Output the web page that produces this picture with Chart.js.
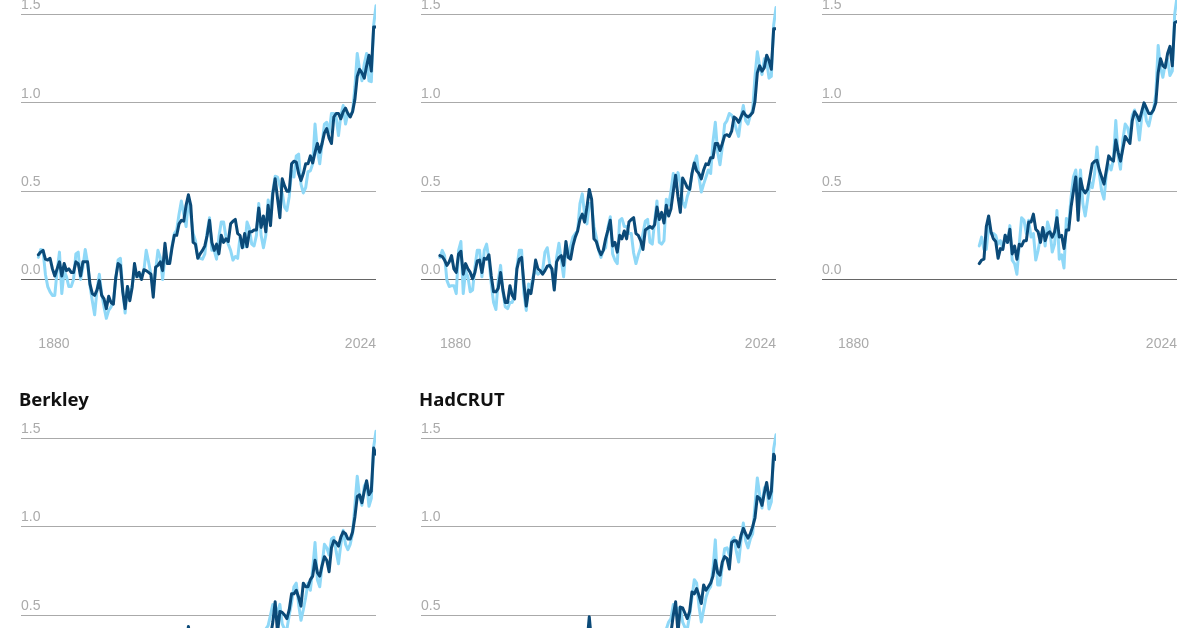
<!DOCTYPE html>
<html>
<head>
<meta charset="utf-8">
<script src="https://cdn.jsdelivr.net/npm/chart.js@4"></script>
<style>
  html, body { margin: 0; width: 1200px; height: 628px; overflow: hidden; background: #fff; }
  canvas { position: absolute; }
</style>
</head>
<body>
<script>
const firstYear = 1880;
const lastYear = 2024;
const years = [];
for (let y = firstYear; y <= lastYear; y++) years.push(y);

const yTicks = [0, 0.5, 1, 1.5];
const xTicks = [1880, 2024];

const titles = ["", "", "", "Berkley", "HadCRUT"];

const panel1Dark = [
  .14,.155,.165,.115,.11,.12,.06,.02,.06,.10,
  .02,.09,.05,.06,.04,.04,.10,.09,.02,.10,
  .10,.10,-.025,-.08,-.09,-.06,-.005,-.09,-.11,-.165,
  -.095,-.13,-.14,.01,.09,.08,-.07,-.165,-.04,-.12,
  -.045,.09,.015,.04,0,.055,.05,.04,.03,-.10,
  .07,.08,.10,.05,.205,.09,.09,.18,.25,.25,
  .315,.335,.33,.42,.48,.42,.21,.20,.12,.145,
  .165,.19,.25,.335,.21,.165,.20,.145,.25,.21,
  .23,.215,.315,.33,.34,.26,.25,.18,.26,.185,
  .27,.27,.28,.28,.405,.295,.36,.27,.42,.305,
  .485,.57,.46,.35,.57,.53,.50,.50,.655,.67,
  .665,.60,.56,.60,.655,.655,.70,.66,.72,.77,
  .72,.77,.83,.855,.80,.77,.92,.94,.94,.91,
  .95,.97,.94,.92,.95,1.02,1.15,1.19,1.17,1.14,
  1.21,1.27,1.18,1.43,1.43
];
const panel1Light = [
  .125,.17,.165,.03,-.04,-.07,-.09,-.09,.05,.155,
  -.08,.05,.015,-.04,-.04,0,.145,.155,0,.07,
  .17,.09,-.035,-.12,-.20,-.06,.03,-.08,-.155,-.22,
  -.175,-.155,-.12,0,.11,.12,-.06,-.19,-.04,-.08,
  -.035,.05,.03,.015,.02,.05,.165,.10,.03,-.05,
  .05,.165,.125,0,.125,.10,.10,.19,.26,.28,
  .37,.445,.37,.30,.45,.37,.26,.22,.125,.12,
  .115,.145,.27,.35,.165,.165,.115,.24,.325,.325,
  .24,.20,.165,.11,.13,.12,.24,.185,.185,.325,
  .29,.20,.19,.25,.43,.25,.18,.25,.45,.40,
  .50,.585,.58,.53,.49,.41,.39,.47,.615,.58,
  .70,.71,.54,.49,.52,.61,.615,.655,.88,.73,
  .655,.77,.88,.89,.83,.94,.94,.92,.815,.93,
  .985,.88,.94,.93,.95,1.09,1.28,1.19,1.125,1.22,
  1.28,1.125,1.12,1.44,1.55
];

const panel2Dark = [
  .135,.13,.11,.08,.10,.135,.06,.04,.145,.16,
  .03,.09,.06,.04,.005,.04,.105,.11,.04,.12,
  .115,.14,.02,-.07,-.07,-.05,.04,-.06,-.13,-.13,
  -.035,-.09,-.11,.06,.115,.125,-.025,-.15,-.06,-.08,
  .005,.11,.06,.05,.03,.05,.075,.08,.06,-.06,
  .10,.125,.135,.08,.215,.125,.115,.19,.24,.275,
  .34,.37,.325,.41,.51,.455,.23,.215,.17,.14,
  .165,.23,.28,.335,.19,.21,.155,.25,.23,.275,
  .23,.325,.34,.35,.26,.25,.22,.17,.28,.29,
  .30,.29,.31,.41,.34,.38,.32,.42,.36,.40,
  .50,.59,.47,.38,.575,.55,.52,.51,.60,.66,
  .615,.60,.57,.62,.655,.65,.69,.69,.77,.77,
  .73,.77,.815,.82,.81,.84,.92,.91,.89,.92,
  .95,.93,.92,.93,.945,1.01,1.17,1.21,1.18,1.20,
  1.27,1.24,1.19,1.42,1.42
];
const panel2Light = [
  .125,.165,.135,-.005,-.04,-.035,-.035,-.08,.165,.215,
  -.08,.05,.015,-.07,-.06,.07,.165,.165,.015,.165,
  .20,.115,-.025,-.13,-.17,-.005,.08,-.07,-.155,-.165,
  -.13,-.13,-.08,.07,.165,.165,-.08,-.175,-.025,-.04,
  .02,.05,.03,.04,.05,.155,.18,.09,.05,-.05,
  .125,.205,.11,.015,.18,.125,.19,.24,.26,.275,
  .43,.485,.37,.315,.43,.43,.30,.24,.165,.125,
  .165,.18,.295,.355,.145,.11,.09,.335,.345,.30,
  .30,.26,.26,.15,.09,.14,.18,.26,.33,.34,
  .21,.20,.33,.445,.21,.20,.22,.455,.42,.50,
  .60,.55,.605,.54,.44,.41,.47,.51,.60,.66,
  .70,.58,.495,.54,.58,.62,.60,.78,.89,.72,
  .65,.75,.88,.90,.94,.93,.90,.85,.81,.92,
  .985,.90,.88,.93,.96,1.15,1.29,1.21,1.16,1.25,
  1.24,1.14,1.15,1.44,1.54
];

// this record only starts in 1940
const panel3Dark = Array(60).fill(null).concat([
  .09,.11,.115,.30,.36,.27,.23,.215,.12,.175,
  .17,.25,.21,.285,.145,.19,.115,.20,.19,.22,
  .22,.325,.325,.37,.285,.27,.21,.295,.22,.26,
  .27,.24,.27,.35,.24,.25,.175,.28,.28,.41,
  .50,.58,.335,.57,.51,.49,.51,.58,.655,.67,
  .675,.62,.58,.54,.62,.70,.68,.67,.79,.72,
  .67,.74,.81,.79,.77,.90,.95,.93,.90,.95,
  1.0,.97,.94,.94,.96,1.0,1.17,1.25,1.21,1.20,
  1.28,1.32,1.21,1.455,1.46
]);
const panel3Light = Array(60).fill(null).concat([
  .19,.24,.17,.17,.30,.26,.26,.25,.20,.22,
  .175,.25,.21,.305,.11,.09,.03,.20,.35,.335,
  .26,.335,.24,.26,.11,.165,.24,.28,.19,.325,
  .28,.155,.20,.39,.115,.14,.065,.345,.31,.465,
  .58,.62,.47,.62,.43,.36,.45,.55,.52,.60,
  .75,.60,.50,.455,.60,.65,.62,.68,.90,.70,
  .625,.79,.88,.86,.80,.93,.96,.90,.79,.92,
  .99,.90,.87,.93,.96,1.05,1.325,1.20,1.145,1.22,
  1.25,1.155,1.18,1.50,1.60
]);

// bottom row is cut off by the picture edge, only the part above it can be read
const panel4Dark = Array(63).fill(null).concat([.32,.435,.32], Array(33).fill(null), [
  .38,.46,.575,.40,.52,.515,.50,.48,.53,.62,.62,
  .64,.60,.55,.68,.66,.66,.70,.72,.81,.74,
  .72,.78,.83,.81,.745,.88,.92,.91,.89,.94,
  .97,.96,.93,.93,.97,1.055,1.17,1.18,1.135,1.20,
  1.26,1.18,1.20,1.445,1.41
]);
const panel4Light = Array(97).fill(null).concat([
  .42,.44,.50,.56,.50,.52,.56,.45,.42,.42,.50,.57,.66,
  .68,.56,.47,.53,.60,.68,.64,.76,.91,.70,
  .66,.78,.90,.88,.84,.93,.94,.86,.79,.90,
  .98,.90,.87,.90,.96,1.12,1.285,1.17,1.12,1.23,
  1.25,1.115,1.16,1.45,1.54
]);

const panel5Dark = Array(63).fill(null).concat([.34,.49,.34], Array(33).fill(null), [
  .40,.50,.575,.40,.545,.54,.51,.48,.52,.63,.62,
  .65,.61,.565,.67,.64,.66,.68,.72,.81,.74,
  .725,.80,.83,.82,.76,.91,.92,.92,.885,.95,
  .99,.96,.935,.96,1.0,1.05,1.17,1.16,1.12,1.19,
  1.25,1.16,1.20,1.41,1.38
]);
const panel5Light = Array(97).fill(null).concat([
  .42,.46,.48,.56,.50,.54,.54,.46,.43,.42,.50,.60,.70,
  .68,.55,.46,.53,.60,.64,.66,.76,.925,.67,
  .67,.78,.875,.88,.84,.92,.94,.86,.80,.92,
  1.02,.92,.88,.93,.96,1.12,1.275,1.18,1.105,1.22,
  1.23,1.10,1.14,1.44,1.52
]);

const darkSeries = [panel1Dark, panel2Dark, panel3Dark, panel4Dark, panel5Dark];
const lightSeries = [panel1Light, panel2Light, panel3Light, panel4Light, panel5Light];

// where each small chart sits on the page
const canvasLeft = [19, 419, 820, 19, 419];
const canvasTop = [-15, -15, -15, 385, 385];
const xAxisMin = [1872.6, 1871.9, 1873.2, 1872.6, 1871.9];

const plotWidth = 355;
const plotHeight = 343;
const xAxisHeight = 30;
const titleHeight = 32;
const topPad = 8; // room chart.js keeps for the top tick label when there is no title
const rightPad = 20;
const yAxisWidth = 2;

for (let i = 0; i < 5; i++) {
  const canvas = document.createElement("canvas");
  const hasTitle = titles[i] !== "";
  canvas.width = yAxisWidth + plotWidth + rightPad;
  canvas.height = plotHeight + xAxisHeight + (hasTitle ? titleHeight : topPad);
  canvas.style.left = canvasLeft[i] + "px";
  canvas.style.top = canvasTop[i] + "px";
  document.body.appendChild(canvas);

  new Chart(canvas, {
    type: "line",
    data: {
      labels: years,
      datasets: [
        { data: darkSeries[i], borderColor: "#0b4a78", borderWidth: 3, pointRadius: 0, tension: 0, borderJoinStyle: "round", borderCapStyle: "round" },
        { data: lightSeries[i], borderColor: "#8fd8f7", borderWidth: 3, pointRadius: 0, tension: 0, borderJoinStyle: "round", borderCapStyle: "round" }
      ]
    },
    options: {
      responsive: false,
      animation: false,
      layout: { padding: { left: 0, right: rightPad, top: hasTitle ? 0 : topPad, bottom: 0 } },
      plugins: {
        legend: { display: false },
        tooltip: { enabled: false },
        title: {
          display: hasTitle,
          text: titles[i],
          align: "start",
          color: "#111",
          font: { family: "'Noto Sans'", size: 18.5, weight: "bold" },
          padding: { top: 5, bottom: 4.8 }
        }
      },
      scales: {
        x: {
          type: "linear",
          min: xAxisMin[i],
          max: lastYear,
          border: { display: false },
          grid: { display: false, drawTicks: false },
          afterBuildTicks: (axis) => { axis.ticks = xTicks.map((v) => ({ value: v })); },
          afterFit: (axis) => { axis.height = xAxisHeight; },
          ticks: {
            autoSkip: false,
            maxRotation: 0,
            align: "inner",
            padding: 0,
            color: "#aaa",
            font: { family: "'Liberation Sans'", size: 14 },
            callback: (v) => String(v)
          }
        },
        y: {
          min: -0.32,
          max: 1.62,
          border: { display: false },
          grid: {
            drawTicks: false,
            lineWidth: 1,
            color: (ctx) => (ctx.tick.value === 0 ? "#666" : "#aaa")
          },
          afterBuildTicks: (axis) => { axis.ticks = yTicks.map((v) => ({ value: v })); },
          afterFit: (axis) => { axis.width = yAxisWidth; },
          ticks: {
            mirror: true,
            padding: 0,
            labelOffset: -9,
            color: "#aaa",
            font: { family: "'Liberation Sans'", size: 14 },
            callback: (v) => v.toFixed(1)
          }
        }
      }
    }
  });
}
</script>
</body>
</html>
